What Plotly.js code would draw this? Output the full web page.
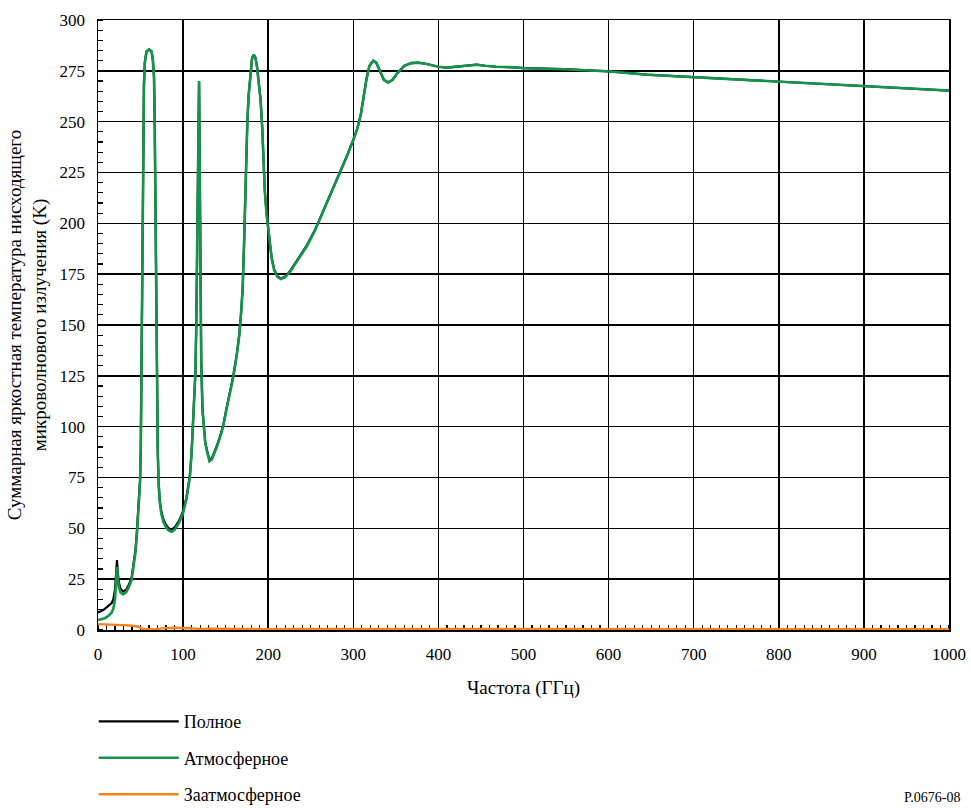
<!DOCTYPE html>
<html>
<head>
<meta charset="utf-8">
<script src="https://cdn.plot.ly/plotly-3.0.1.min.js"></script>
<style>html,body{margin:0;padding:0;background:#fff;}#chart{width:971px;height:808px;}</style>
</head>
<body>
<div id="chart"></div>
<script>
// Frequency grid (GHz) for total and atmospheric series
var freq = [0,4,8,12,16,18,20,21.3,22.3,23.3,24.5,26.5,29.5,33,36,39.5,42,44,45.4,47,48.5,49.5,50.3,51,51.6,52.2,53.2,54,55,57,60,63,64.5,65.8,66.5,67.2,67.8,68.5,69.3,70.2,71.2,72.5,74.5,77,80,83,86.5,90,95,100,104,108,110,112,113.5,114.5,115.5,116.3,117.2,118.2,118.75,119.2,119.7,120.4,121.3,122.8,124,126,128,131,134,137,140,144,147,151,155,159,163,166,168,170,171.5,172.7,174,175.5,177,179,181,183,185,187,189,191,193,194.5,196,198,200,202,204,207,211,215,220,226,235,245,255,265,275,284,292,300,305,309,312,315.5,319,323.5,327,331,336,341,346,352,360,368,376,385,395,400,410,420,432,445,455,468,484,502,547,602,645,702,743,801,850,901,950,1000];

// Atmospheric brightness temperature (K)
var atmos = [4.9,5.2,5.8,6.9,8.5,10.5,15,24,31,25,21,18.5,17.5,18.5,20.8,24.6,31,38,45,54,63,73,90,130,175,210,241,268,279,284.5,285.5,284.5,280,272,255,225,190,150,115,88,72,63,57,53,50.5,49,48.3,49.3,52.5,57.5,64.5,75.4,87,102,115,127,150,182,222,258,270,245,205,160,132,108,100,92,88,83,84,87,90.5,95.5,100,108.5,116.5,124.6,135,145,155,168,188,208,232,250,263,274,281,283,281.5,276.5,270,261,247,231,216,205,197.5,189.5,183,177,173.6,172.6,173.5,176.3,181.8,188.5,196.5,206,215.5,224.6,232.5,241,247,254,262,271,277.5,280,279,275,270.5,269.3,270.5,274,277.5,278.8,279,278.5,277.3,277,276.6,276.9,277.5,278,277.5,277,276.8,276.3,275.8,274.7,273.1,271.8,271,269.5,268.5,267.3,266.2,265.3];

// Total brightness temperature (K)
var total = [8.6,9.3,10.4,11.7,13.2,15,20,28,34.4,28,23.5,20.3,18.9,19.8,22,25.8,32.5,39.5,46.5,55.5,64.5,74.5,91,131,175.5,210,241,268,279,284.5,285.5,284.5,280,272,255,225,190,150.3,115.5,88.8,73,64,58.2,54.2,51.6,50.1,49.4,50.4,53.5,58.5,65.3,76,87.5,102.3,115.2,127.1,150,182,222,258,270,245,205,160.1,132.3,108.5,100.5,92.5,88.5,83.6,84.6,87.6,91,96,100.5,109,117,125,135.3,145.2,155.1,168.1,188,208,232,250,263,274,281,283,281.5,276.5,270,261,247,231,216,205.1,197.6,189.6,183.2,177.3,173.9,172.9,173.8,176.7,182.2,188.9,196.8,206.3,215.7,224.8,232.6,241.1,247,254,262,271,277.5,280,279,275,270.5,269.3,270.5,274,277.5,278.8,279,278.5,277.3,277,276.6,276.9,277.5,278,277.5,277,276.8,276.3,275.8,274.7,273.1,271.8,271,269.5,268.5,267.3,266.2,265.3];

// Extraterrestrial (cosmic background) contribution
var freqExt = [0,10,20,22.3,30,40,48,51,53,60,67,70,75,80,90,100,110,116,118.75,122,130,150,170,183,200,230,260,300,330,400,500,700,1000];
var extra = [2.9,2.8,2.6,2.4,2.4,2.1,1.6,0.8,0.4,0.4,0.4,0.5,0.8,1.0,1.1,1.0,0.7,0.4,0.4,0.5,0.7,0.6,0.4,0.4,0.4,0.5,0.5,0.4,0.4,0.4,0.4,0.4,0.4];

var seriesNames = ['Полное','Атмосферное','Заатмосферное'];
var xTickVals = [0,100,200,300,400,500,600,700,800,900,1000];
var yTickVals = [0,25,50,75,100,125,150,175,200,225,250,275,300];

var serif = "'Liberation Serif'";

var traces = [
  {x: freq, y: total, type: 'scatter', mode: 'lines', name: seriesNames[0], legendgroup: 'a',
   line: {color: '#000000', width: 2.2}},
  {x: freq, y: atmos, type: 'scatter', mode: 'lines', name: seriesNames[1], legendgroup: 'b',
   line: {color: '#14934a', width: 2.6}},
  {x: freqExt, y: extra, type: 'scatter', mode: 'lines', name: seriesNames[2], legendgroup: 'c',
   line: {color: '#f5821f', width: 2.4}}
];

var layout = {
  width: 971, height: 808,
  margin: {l: 98, r: 22, t: 20, b: 178, autoexpand: false},
  paper_bgcolor: '#ffffff', plot_bgcolor: '#ffffff',
  font: {family: serif, size: 16, color: '#000'},
  showlegend: true,
  legend: {x: -0.005, y: -0.12, xanchor: 'left', yanchor: 'top', orientation: 'v',
           font: {family: serif, size: 18, color: '#000'}, itemwidth: 80,
           tracegroupgap: 10, bgcolor: 'rgba(0,0,0,0)'},
  xaxis: {range: [0, 1000], tickvals: xTickVals, ticktext: xTickVals.map(String),
          showgrid: true, gridcolor: '#000', gridwidth: 1.5, layer: 'below traces',
          showline: true, linecolor: '#000', linewidth: 1.5, mirror: true,
          ticks: '', zeroline: false, ticklabelstandoff: 8, automargin: false,
          tickfont: {family: serif, size: 17},
          minor: {dtick: 10, ticks: 'inside', ticklen: 5, tickcolor: '#000', tickwidth: 1.2, showgrid: false},
          title: {text: 'Частота (ГГц)', font: {family: serif, size: 19}, standoff: 18}},
  yaxis: {range: [0, 300], tickvals: yTickVals, ticktext: yTickVals.map(String),
          showgrid: true, gridcolor: '#000', gridwidth: 1.5, layer: 'below traces',
          showline: true, linecolor: '#000', linewidth: 1.5, mirror: true,
          ticks: '', zeroline: false, ticklabelstandoff: 8, automargin: false,
          tickfont: {family: serif, size: 17},
          minor: {dtick: 5, ticks: 'inside', ticklen: 5, tickcolor: '#000', tickwidth: 1.2, showgrid: false},
          title: {text: 'Суммарная яркостная температура нисходящего<br>микроволнового излучения (K)',
                  font: {family: serif, size: 19}, standoff: 8}},
  annotations: [
    {text: 'P.0676-08', xref: 'paper', yref: 'paper', x: 1.015, y: -0.274, xanchor: 'right', yanchor: 'middle',
     showarrow: false, font: {family: serif, size: 14, color: '#000'}}
  ]
};

Plotly.newPlot('chart', traces, layout, {displayModeBar: false, staticPlot: true});
</script>
</body>
</html>
